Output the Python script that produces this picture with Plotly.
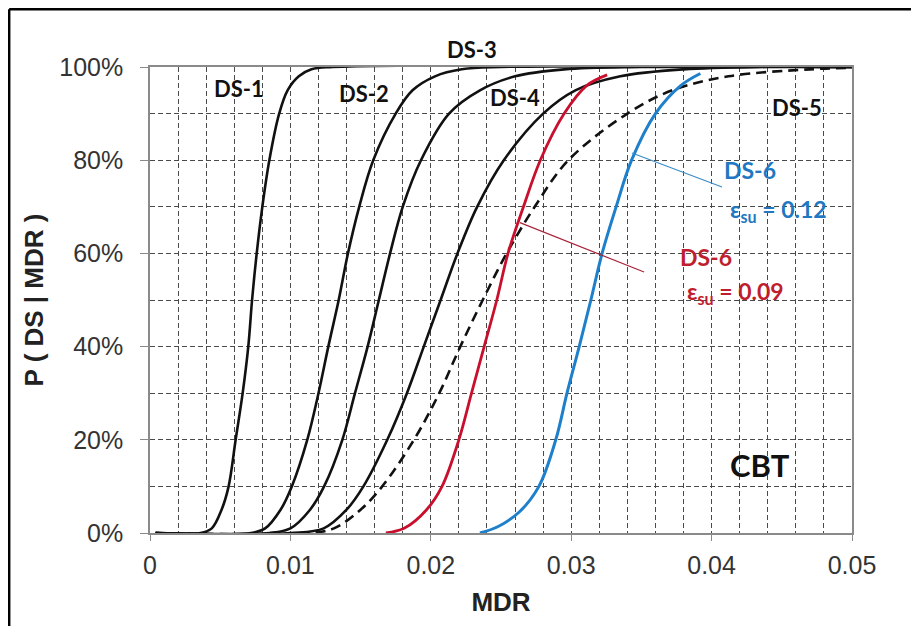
import plotly.graph_objects as go

# ---- data (MDR, probability) ----
p_std = [0, 0, 0.01, 0.05, 0.10, 0.20, 0.30, 0.40, 0.50, 0.60, 0.70, 0.80, 0.90, 0.95, 0.98, 0.995, 1.0, 1.0]

ds1_x = [0.0004, 0.0036, 0.0044, 0.0051, 0.0056, 0.0061, 0.0066, 0.0070, 0.00727, 0.0076, 0.0080, 0.0085, 0.0092, 0.0098, 0.0106, 0.0115, 0.0130, 0.050]
ds2_x = [0.0004, 0.0072, 0.0082, 0.0093, 0.0101, 0.0112, 0.0120, 0.0127, 0.01344, 0.0141, 0.0149, 0.0159, 0.0175, 0.0187, 0.0203, 0.0222, 0.0250, 0.050]
ds3_x = [0.0004, 0.0085, 0.0100, 0.0114, 0.0124, 0.0137, 0.0146, 0.0155, 0.0163, 0.0171, 0.0180, 0.0193, 0.0213, 0.0235, 0.0260, 0.0295, 0.0350, 0.050]
ds4_x = [0.0004, 0.0100, 0.01237, 0.0140, 0.0152, 0.0169, 0.0183, 0.0195, 0.0207, 0.0219, 0.0233, 0.0252, 0.0280, 0.0303, 0.0335, 0.0380, 0.0440, 0.050]

ds5_x = [0.0004, 0.0112, 0.0131, 0.0150, 0.01654, 0.0188, 0.0206, 0.0221, 0.0237, 0.0254, 0.0274, 0.0298, 0.0340, 0.0372, 0.0412, 0.0470, 0.0500]
ds5_y = [0, 0, 0.01, 0.05, 0.10, 0.20, 0.30, 0.40, 0.50, 0.60, 0.70, 0.80, 0.90, 0.95, 0.98, 0.995, 0.998]

ds6a_x = [0.0168, 0.0181, 0.0197, 0.0208, 0.0220, 0.0229, 0.0238, 0.0247, 0.0255, 0.0266, 0.0278, 0.0295, 0.0311, 0.03256]
ds6a_y = [0, 0.01, 0.05, 0.10, 0.20, 0.30, 0.40, 0.50, 0.60, 0.70, 0.80, 0.90, 0.96, 0.983]

ds6b_x = [0.0235, 0.0248, 0.0263, 0.0277, 0.0289, 0.0297, 0.03057, 0.0314, 0.0322, 0.0332, 0.0343, 0.0360, 0.0378, 0.0392]
ds6b_y = [0, 0.014, 0.045, 0.10, 0.20, 0.30, 0.40, 0.50, 0.60, 0.70, 0.80, 0.90, 0.96, 0.986]

x_ticks = [0, 0.01, 0.02, 0.03, 0.04, 0.05]
x_ticktext = ["0", "0.01", "0.02", "0.03", "0.04", "0.05"]
y_ticks = [0, 0.2, 0.4, 0.6, 0.8, 1.0]
y_ticktext = ["0%", "20%", "40%", "60%", "80%", "100%"]

BLACK = "#111111"
RED = "#C8102E"
BLUE = "#1E7FCB"
RED_TXT = "#BE1E2D"
BLUE_TXT = "#1F78C1"

SM = 1.0
fig = go.Figure()
for xs in [ds1_x, ds2_x, ds3_x, ds4_x]:
    fig.add_trace(go.Scatter(x=xs, y=p_std, mode="lines",
                             line=dict(color=BLACK, width=2.6, shape="spline", smoothing=SM),
                             showlegend=False, hoverinfo="skip"))
fig.add_trace(go.Scatter(x=ds5_x, y=ds5_y, mode="lines",
                         line=dict(color=BLACK, width=2.6, dash="10px,6px", shape="spline", smoothing=SM),
                         showlegend=False, hoverinfo="skip"))
fig.add_trace(go.Scatter(x=ds6a_x, y=ds6a_y, mode="lines",
                         line=dict(color=RED, width=2.8, shape="spline", smoothing=SM),
                         showlegend=False, hoverinfo="skip"))
fig.add_trace(go.Scatter(x=ds6b_x, y=ds6b_y, mode="lines",
                         line=dict(color=BLUE, width=3, shape="spline", smoothing=SM),
                         showlegend=False, hoverinfo="skip"))


def txt(x, y, s, color="#111", size=22, yref="y"):
    fig.add_annotation(x=x, y=y, xref="x", yref=yref, text=s, showarrow=False,
                       font=dict(family="Lato, sans-serif", size=size, color=color, weight="bold"),
                       xanchor="center", yanchor="middle")

txt(0.00634, 0.953, "DS-1")
txt(0.01524, 0.944, "DS-2")
txt(0.02293, 1.0365, "DS-3", yref="paper")
txt(0.0260, 0.9335, "DS-4")
txt(0.04608, 0.914, "DS-5")
txt(0.04274, 0.779, "DS-6", BLUE_TXT, 23)
txt(0.04473, 0.693, "ε<sub>su</sub> = 0.12", BLUE_TXT, 23)
txt(0.0396, 0.592, "DS-6", RED_TXT, 23)
txt(0.04167, 0.517, "ε<sub>su</sub> = 0.09", RED_TXT, 23)
txt(0.04345, 0.146, "CBT", "#111", 31)

# leader lines
fig.add_shape(type="line", xref="x", yref="y", x0=0.03433, y0=0.8155, x1=0.04074, y1=0.7425,
              line=dict(color="#3A8CC8", width=1.2))
fig.add_shape(type="line", xref="x", yref="y", x0=0.02635, y0=0.666, x1=0.03519, y1=0.560,
              line=dict(color="#A8243A", width=1.2))

# outer frame (top and left edges)
fig.add_shape(type="line", xref="paper", yref="paper", x0=-0.2006, x1=-0.2006, y0=-0.25, y1=1.124,
              line=dict(color="black", width=2.5))
fig.add_shape(type="line", xref="paper", yref="paper", x0=-0.2006, x1=1.2, y0=1.124, y1=1.124,
              line=dict(color="black", width=2.5))

GRID = "#4a4a4a"
TICKF = dict(family="Liberation Sans, Arial, sans-serif", size=25, color="#333")
fig.update_xaxes(range=[0, 0.05], tickvals=x_ticks, ticktext=x_ticktext,
                 showline=True, linecolor="#8a8a8a", linewidth=1.5, mirror=True,
                 ticks="outside", ticklen=6, tickcolor="#8a8a8a",
                 showgrid=True, gridcolor=GRID, gridwidth=1, griddash="5px,3px",
                 minor=dict(dtick=0.002, showgrid=True, gridcolor=GRID, gridwidth=1, griddash="5px,3px"),
                 tickfont=TICKF, ticklabelstandoff=3, zeroline=False,
                 title=dict(text="<b>MDR</b>", font=dict(family="Liberation Sans, Arial", size=26, color="#222"), standoff=15))
fig.update_yaxes(range=[0, 1], tickvals=y_ticks, ticktext=y_ticktext,
                 showline=True, linecolor="#8a8a8a", linewidth=1.5, mirror=True,
                 ticks="outside", ticklen=8, tickcolor="#8a8a8a",
                 showgrid=True, gridcolor=GRID, gridwidth=1, griddash="5px,3px",
                 minor=dict(dtick=0.1, showgrid=True, gridcolor=GRID, gridwidth=1, griddash="5px,3px"),
                 tickfont=TICKF, ticklabelstandoff=12, zeroline=False,
                 title=dict(text="<b>P ( DS | MDR )</b>", font=dict(family="Liberation Sans, Arial", size=26, color="#222"), standoff=8))

fig.update_layout(width=903, height=618, margin=dict(l=142, r=59, t=59, b=93),
                  paper_bgcolor="white", plot_bgcolor="white", showlegend=False)

fig.write_html("out.html")
